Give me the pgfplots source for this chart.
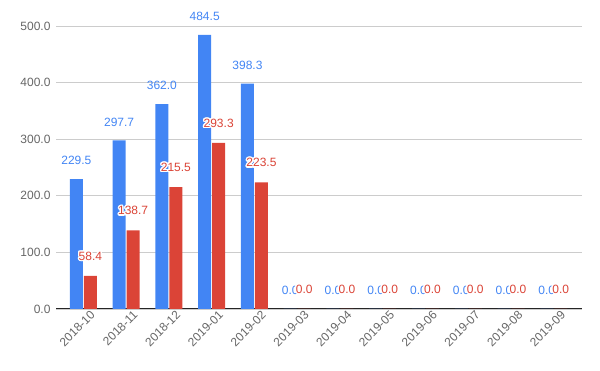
\documentclass[border=0pt]{standalone}
\usepackage{fontspec}
\setmainfont{Liberation Sans}
\usepackage{pgfplots}
\pgfplotsset{compat=1.18}
\usepackage{contour}
\contourlength{1.3pt}
\contournumber{16}
\definecolor{gblue}{HTML}{4285F4}
\definecolor{gred}{HTML}{DB4437}
\definecolor{tickgray}{HTML}{666666}
\begin{document}
\begin{tikzpicture}
\path[use as bounding box] (0,0) rectangle (600pt,371pt);
\begin{axis}[
  at={(56pt,62pt)}, anchor=south west, scale only axis,
  width=526pt, height=283pt,
  ybar=1pt, bar width=13pt,
  xmin=-0.64, xmax=11.66, ymin=0, ymax=500,
  ytick={0,100,...,500},
  xtick={0,...,11},
  xticklabels={2018-10,2018-11,2018-12,2019-01,2019-02,2019-03,2019-04,2019-05,2019-06,2019-07,2019-08,2019-09},
  axis line style={draw=none},
  major tick length=0pt,
  ymajorgrids, grid style={draw=black!20, line width=0.8pt},
  extra y ticks={0}, extra y tick labels={},
  extra y tick style={grid style={draw=black!85, line width=1pt}},
  yticklabel style={text=tickgray, font=\fontsize{12}{14}\selectfont, xshift=-2pt},
  xticklabel style={text=tickgray, font=\fontsize{12}{14}\selectfont, rotate=45, anchor=north east, inner sep=1pt, xshift=5pt, yshift=-4pt},
  /pgf/number format/fixed, /pgf/number format/fixed zerofill,
  /pgf/number format/precision=1, /pgf/number format/1000 sep={},
  /pgf/number format/assume math mode=true,
  clip=false,
  every node near coord/.append style={font=\fontsize{12}{14}\selectfont, inner sep=0pt, yshift=14pt},
]
\addplot[draw=none, fill=gblue, nodes near coords, every node near coord/.append style={text=gblue}]
  coordinates {(0,229.5) (1,297.7) (2,362.0) (3,484.5) (4,398.3) (5,0) (6,0) (7,0) (8,0) (9,0) (10,0) (11,0)};
\addplot[draw=none, fill=gred, nodes near coords={\contour{white}{\pgfmathprintnumber{\pgfplotspointmeta}}}, every node near coord/.append style={text=gred}]
  coordinates {(0,58.4) (1,138.7) (2,215.5) (3,293.3) (4,223.5) (5,0) (6,0) (7,0) (8,0) (9,0) (10,0) (11,0)};
\end{axis}
\end{tikzpicture}
\end{document}
